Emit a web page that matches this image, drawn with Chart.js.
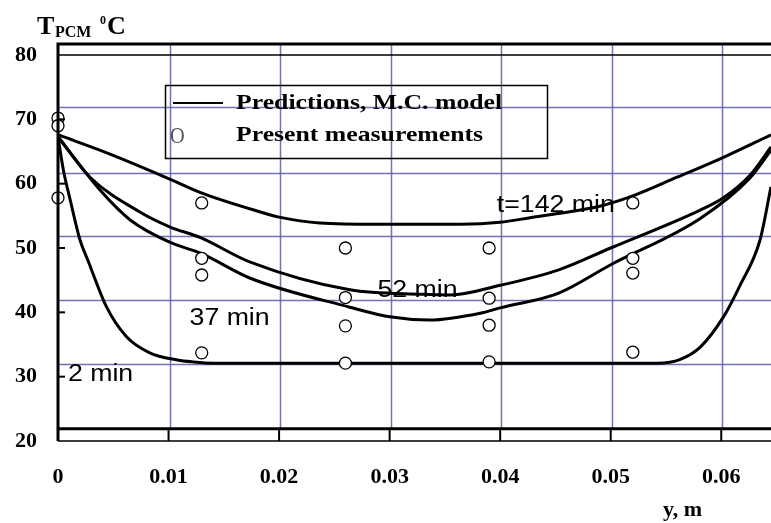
<!DOCTYPE html>
<html>
<head>
<meta charset="utf-8">
<script src="https://cdn.jsdelivr.net/npm/chart.js@4.4.1/dist/chart.umd.min.js"></script>
<style>
  html, body { margin: 0; padding: 0; background: #fff; overflow: hidden; }
  canvas { display: block; }
</style>
</head>
<body>
<canvas id="pcmChart" width="771" height="523"></canvas>
<script>
// Predicted temperature profiles across the PCM slab (y in m, T in degC)
const y142 = [0, 0.0047, 0.01, 0.0129, 0.0183, 0.02, 0.0237, 0.0289, 0.0364, 0.04, 0.0427, 0.0454, 0.049, 0.052, 0.056, 0.0602, 0.0645];
const t142 = [67.6, 64.6, 60.8, 58.6, 55.6, 54.8, 53.9, 53.7, 53.7, 54.0, 54.7, 55.4, 56.5, 58.1, 61.0, 64.1, 67.6];

const y52 = [0, 0.0029, 0.0074, 0.0101, 0.0129, 0.0174, 0.0264, 0.033, 0.0355, 0.04, 0.0453, 0.05, 0.0581, 0.0602, 0.0626, 0.0645];
const t52 = [67.3, 61.0, 55.6, 53.3, 51.6, 47.8, 43.5, 42.8, 42.7, 44.2, 46.6, 50.0, 55.9, 57.8, 61.3, 65.7];

const y37 = [0, 0.0038, 0.0065, 0.0101, 0.0129, 0.0174, 0.0264, 0.03, 0.0336, 0.0383, 0.04, 0.0453, 0.05, 0.0581, 0.0626, 0.0645];
const t37 = [67.3, 59.0, 54.4, 50.9, 49.2, 45.3, 40.8, 39.3, 38.8, 39.9, 40.7, 43.0, 47.4, 54.6, 60.9, 65.2];

const y2 = [0, 0.0005, 0.0011, 0.002, 0.0027, 0.0044, 0.0062, 0.0083, 0.0108, 0.0122, 0.014, 0.052, 0.0542, 0.0563, 0.0581, 0.0602, 0.0617, 0.0635, 0.0645];
const t2 = [67.3, 62.0, 57.5, 51.2, 48.1, 40.8, 36.2, 33.7, 32.6, 32.3, 32.1, 32.1, 32.1, 32.7, 34.6, 39.3, 44.2, 51.2, 59.5];

// Present measurements
const measY = [0, 0, 0, 0.013, 0.013, 0.013, 0.013, 0.026, 0.026, 0.026, 0.026, 0.039, 0.039, 0.039, 0.039, 0.052, 0.052, 0.052, 0.052];
const measT = [70.2, 69.0, 57.8, 57.0, 48.4, 45.8, 33.7, 50.0, 42.3, 37.9, 32.1, 50.0, 42.2, 38.0, 32.3, 57.0, 48.4, 46.1, 33.8];

// Tick labels / grid positions
const xTicks = [0, 0.01, 0.02, 0.03, 0.04, 0.05, 0.06];
const yTicks = [20, 30, 40, 50, 60, 70, 80];
const gridT = [32.0, 41.9, 51.8, 61.7, 71.9];

// Curve labels: text, y (m), T (degC)
const curveLabels = [
    ['t=142 min', 0.0397, 56.6],
    ['52 min', 0.0289, 43.4],
    ['37 min', 0.0119, 39.0],
    ['2 min', 0.0009, 30.3]
];

const toPts = (xs, ts) => xs.map((x, i) => ({ x: x, y: ts[i] }));

function curve(xs, ts) {
    return {
        data: toPts(xs, ts),
        showLine: true,
        borderColor: '#000',
        borderWidth: 3,
        pointRadius: 0,
        cubicInterpolationMode: 'monotone',
        fill: false,
        order: 2
    };
}

const SERIF = '"Liberation Serif", "Times New Roman", serif';
const SANS = '"Liberation Sans", Arial, sans-serif';

function stretchText(ctx, txt, x, y, font, sx) {
    ctx.save();
    ctx.font = font;
    ctx.textAlign = 'left';
    ctx.textBaseline = 'middle';
    ctx.translate(x, y);
    ctx.scale(sx, 1);
    ctx.fillText(txt, 0, 0);
    ctx.restore();
}

const framePlugin = {
    id: 'frame',
    beforeDatasetsDraw(chart) {
        const { ctx, chartArea: a, scales: { x, y } } = chart;
        const gridBottom = y.getPixelForValue(21.9);
        ctx.save();
        ctx.strokeStyle = 'rgba(100, 100, 170, 0.9)';
        ctx.lineWidth = 1.5;
        gridT.forEach(v => {
            const py = Math.round(y.getPixelForValue(v)) + 0.5;
            ctx.beginPath(); ctx.moveTo(a.left, py); ctx.lineTo(a.right, py); ctx.stroke();
        });
        xTicks.slice(1).forEach(v => {
            const px = Math.round(x.getPixelForValue(v)) + 1.5;
            ctx.beginPath(); ctx.moveTo(px, a.top); ctx.lineTo(px, gridBottom); ctx.stroke();
        });
        ctx.restore();
    },
    afterDatasetsDraw(chart) {
        const { ctx, chartArea: a, scales: { x, y } } = chart;
        const gridBottom = y.getPixelForValue(21.9);
        const p80 = y.getPixelForValue(80);
        const p20 = y.getPixelForValue(20);
        ctx.save();
        ctx.strokeStyle = '#000';

        // thin frame (axis range)
        ctx.lineWidth = 1.5;
        ctx.beginPath();
        ctx.moveTo(a.left, p80); ctx.lineTo(a.right, p80);
        ctx.moveTo(a.left, p20); ctx.lineTo(a.right, p20);
        ctx.stroke();

        // x tick marks between the two bottom lines
        ctx.lineWidth = 2;
        xTicks.slice(1).forEach(v => {
            const px = x.getPixelForValue(v);
            ctx.beginPath(); ctx.moveTo(px, gridBottom); ctx.lineTo(px, p20); ctx.stroke();
        });
        // y tick marks pointing inward
        yTicks.slice(1, -1).forEach(v => {
            const py = y.getPixelForValue(v);
            ctx.beginPath(); ctx.moveTo(a.left, py); ctx.lineTo(a.left + 7, py); ctx.stroke();
        });

        // thick frame
        ctx.lineWidth = 3;
        ctx.beginPath();
        ctx.moveTo(a.right, a.top); ctx.lineTo(a.left, a.top); ctx.lineTo(a.left, p20);
        ctx.moveTo(a.left, gridBottom); ctx.lineTo(a.right, gridBottom);
        ctx.stroke();

        // legend box
        ctx.lineWidth = 1.5;
        ctx.strokeRect(165.5, 85.5, 382, 73);
        ctx.lineWidth = 2;
        ctx.beginPath(); ctx.moveTo(173, 103); ctx.lineTo(223, 103); ctx.stroke();
        ctx.fillStyle = '#000';
        stretchText(ctx, 'Predictions, M.C. model', 236, 103, 'bold 22px ' + SERIF, 1.17);
        stretchText(ctx, 'Present measurements', 236, 135, 'bold 22px ' + SERIF, 1.17);
        ctx.fillStyle = '#555';
        stretchText(ctx, 'O', 170, 137, '24px ' + SERIF, 0.85);

        // curve labels
        ctx.fillStyle = '#000';
        curveLabels.forEach(([txt, vx, vt]) => {
            stretchText(ctx, txt, x.getPixelForValue(vx), y.getPixelForValue(vt), '23px ' + SANS, 1.16);
        });

        // axis titles
        ctx.font = 'bold 26px ' + SERIF;
        ctx.textBaseline = 'alphabetic';
        ctx.textAlign = 'left';
        ctx.fillText('T', 37, 34);
        ctx.font = 'bold 16px ' + SERIF;
        ctx.fillText('PCM', 55, 37);
        ctx.font = 'bold 12px ' + SERIF;
        ctx.fillText('0', 100, 24);
        ctx.font = 'bold 26px ' + SERIF;
        ctx.fillText('C', 107, 34);
        ctx.font = 'bold 22px ' + SERIF;
        ctx.fillText('y, m', 663, 516);
        ctx.restore();
    }
};

const tickFont = { family: SERIF, size: 22, weight: 'bold' };

new Chart(document.getElementById('pcmChart'), {
    type: 'scatter',
    data: {
        datasets: [
            curve(y142, t142),
            curve(y52, t52),
            curve(y37, t37),
            curve(y2, t2),
            {
                data: toPts(measY, measT),
                showLine: false,
                pointStyle: 'circle',
                pointRadius: 6,
                borderWidth: 1.3,
                borderColor: '#000',
                backgroundColor: '#fff',
                clip: false,
                order: 1
            }
        ]
    },
    options: {
        responsive: false,
        animation: false,
        devicePixelRatio: 1,
        layout: { autoPadding: false, padding: { top: 44, left: 0, right: 0, bottom: 0 } },
        plugins: {
            legend: { display: false },
            tooltip: { enabled: false }
        },
        scales: {
            x: {
                type: 'linear',
                min: 0,
                max: 0.0645,
                grid: { display: false, drawTicks: false },
                border: { display: false },
                ticks: {
                    stepSize: 0.01,
                    includeBounds: false,
                    color: '#000',
                    font: tickFont,
                    padding: 23,
                    maxRotation: 0,
                    callback: v => String(+v.toFixed(2))
                },
                afterFit: s => {
                    s.height = 82;
                    s.paddingLeft = 0;
                    s.paddingRight = 0;
                }
            },
            y: {
                min: 20,
                max: 81.71,
                grid: { display: false, drawTicks: false },
                border: { display: false },
                ticks: {
                    stepSize: 10,
                    includeBounds: false,
                    color: '#000',
                    font: tickFont,
                    padding: 21
                },
                afterFit: s => { s.width = 58; }
            }
        }
    },
    plugins: [framePlugin]
});
</script>
</body>
</html>
